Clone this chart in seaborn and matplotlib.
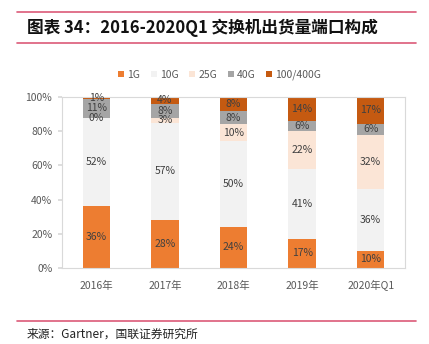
import matplotlib
matplotlib.use("Agg")
import matplotlib.pyplot as plt
import seaborn as sns
import numpy as np
from matplotlib.lines import Line2D
from matplotlib.patches import Patch

categories = ["2016年", "2017年", "2018年", "2019年", "2020年Q1"]
series_names = ["1G", "10G", "25G", "40G", "100/400G"]
s_1g = [36, 28, 24, 17, 10]
s_10g = [52, 57, 50, 41, 36]
s_25g = [0, 3, 10, 22, 32]
s_40g = [11, 8, 8, 6, 6]
s_100g = [1, 4, 8, 14, 17]
colors = ["#ED7D31", "#F2F2F2", "#FBE5D6", "#A5A5A5", "#C55A11"]
yticks = [0, 20, 40, 60, 80, 100]

sns.set_theme(style="white")
plt.rcParams['font.family'] = ['Noto Sans CJK SC', 'DejaVu Sans']

fig = plt.figure(figsize=(4.29, 3.44), dpi=100)
ax = fig.add_axes([0.1445, 0.221, 0.7995, 0.497])

series = [s_1g, s_10g, s_25g, s_40g, s_100g]
bottom = np.zeros(len(categories))
for name, vals, col in zip(series_names, series, colors):
    sns.barplot(x=categories, y=vals, bottom=bottom, color=col, width=0.4,
                ax=ax, saturation=1, edgecolor="none", linewidth=0)
    for i, v in enumerate(vals):
        ax.text(i, bottom[i] + v / 2, f"{v}%", ha="center", va="center",
                fontsize=7.5, color="#404040")
    bottom = bottom + np.array(vals)

ax.set_ylim(0, 100)
ax.set_xlim(-0.5, len(categories) - 0.5)
ax.set_yticks(yticks)
ax.set_yticklabels([f"{t}%" for t in yticks], fontsize=7.5, color="#595959")
ax.tick_params(axis="x", labelsize=7.5, labelcolor="#595959", length=0, pad=9)
ax.tick_params(axis="y", length=3, color="#D9D9D9", left=True, pad=4)
for sp in ax.spines.values():
    sp.set_color("#D9D9D9")
    sp.set_linewidth(0.8)
ax.set_xlabel("")
ax.set_ylabel("")

handles = [Patch(facecolor=c, edgecolor="none") for c in colors]
fig.legend(handles, series_names, loc="center", bbox_to_anchor=(0.512, 0.782),
           ncol=5, frameon=False, fontsize=7.5, handlelength=0.6, handleheight=0.6,
           handletextpad=0.3, columnspacing=1.0, labelcolor="#595959")

red = "#DC5A78"
fig.add_artist(Line2D([0.04, 0.97], [1 - 12/344, 1 - 12/344], color=red, lw=1.2))
fig.add_artist(Line2D([0.04, 0.97], [1 - 43/344, 1 - 43/344], color=red, lw=1.2))
fig.add_artist(Line2D([0.04, 0.97], [1 - 321/344, 1 - 321/344], color=red, lw=1.2))
fig.text(0.063, 1 - 28/344, "图表 34：2016-2020Q1 交换机出货量端口构成", fontsize=12,
         fontweight="bold", fontstyle="italic", va="center", ha="left", color="#111111")
fig.text(0.063, 1 - 334/344, "来源：Gartner，国联证券研究所", fontsize=8.5,
         va="center", ha="left", color="#222222")

fig.savefig("out.png", dpi=100)
